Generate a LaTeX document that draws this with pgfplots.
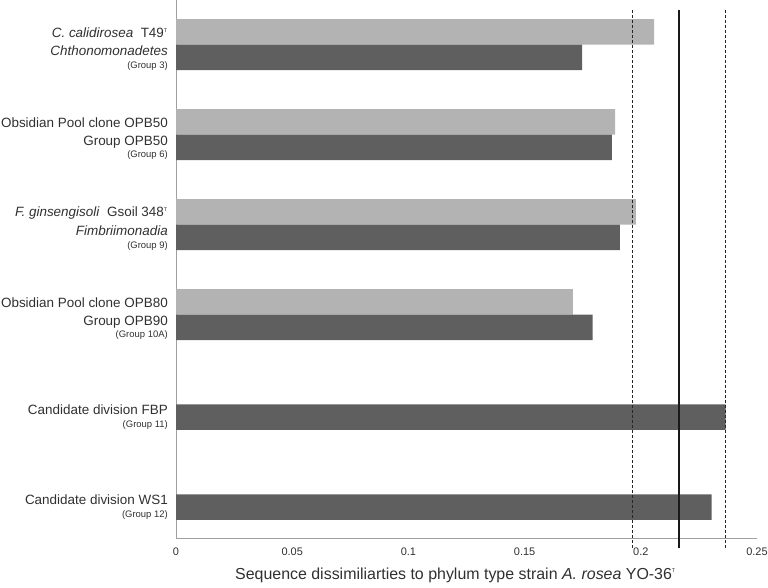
\documentclass[border=0pt]{standalone}
\usepackage{fontspec}
\setmainfont{Liberation Sans}
\usepackage{pgfplots}
\pgfplotsset{compat=1.18}
\definecolor{lightbar}{HTML}{B3B3B3}
\definecolor{darkbar}{HTML}{5F5F5F}
\definecolor{axgray}{HTML}{A0A0A0}
\definecolor{txt}{HTML}{303030}
\newcommand{\sm}[1]{{\fontsize{9.5}{11}\selectfont #1}}
\newcommand{\supT}{\textsuperscript{\fontsize{5.5}{6}\selectfont T}}
\begin{document}
\begin{tikzpicture}[x=1bp,y=1bp]
\useasboundingbox (0,0) rectangle (768,588);
\begin{axis}[
  at={(176bp,50bp)}, anchor=south west,
  width=581bp, height=538bp, scale only axis,
  xmin=0, xmax=0.25, ymin=0, ymax=538, y dir=reverse,
  axis x line*=bottom, axis y line*=left,
  axis line style={axgray, line width=0.9pt, -},
  xtick={0,0.05,0.1,0.15,0.2,0.25},
  xticklabels={0,0.05,0.1,0.15,0.2,0.25},
  major tick length=0pt,
  xticklabel style={font=\fontsize{11}{13}\selectfont, text=txt, yshift=-6bp},
  ytick={33,58,123,148,213,238,303,328,417,507},
  yticklabels={
    {\textit{C. calidirosea}\ \ T49\supT},
    {\textit{Chthonomonadetes}\\[-3.5bp]\sm{(Group 3)}},
    {Obsidian Pool clone OPB50},
    {Group OPB50\\[-3.5bp]\sm{(Group 6)}},
    {\textit{F. ginsengisoli}\ \ Gsoil 348\supT},
    {\textit{Fimbriimonadia}\\[-3.5bp]\sm{(Group 9)}},
    {Obsidian Pool clone OPB80},
    {Group OPB90\\[-3.5bp]\sm{(Group 10A)}},
    {Candidate division FBP\\[-3.5bp]\sm{(Group 11)}},
    {Candidate division WS1\\[-3.5bp]\sm{(Group 12)}}},
  yticklabel style={align=right, font=\fontsize{13.5}{16}\selectfont, text=txt, inner sep=0pt, xshift=-8bp},
  xlabel={Sequence dissimiliarties to phylum type strain \textit{A. rosea} YO-36\supT},
  xlabel style={font=\fontsize{16}{18}\selectfont, text=txt, at={(axis description cs:0.5,0)}, anchor=center, yshift=-37bp, xshift=-11bp},
  bar width=25.5,
  clip=false,
]
\addplot[xbar, bar shift=0pt, fill=lightbar, draw=none] coordinates {
  (0.2057,32) (0.1889,122) (0.1979,212) (0.1708,302)};
\addplot[xbar, bar shift=0pt, fill=darkbar, draw=none] coordinates {
  (0.1747,57.5) (0.1875,147.5) (0.1910,237.5) (0.1793,327.5) (0.2365,417) (0.2305,507)};
\addplot[black!85, line width=1.5pt, dash pattern=on 3bp off 2bp] coordinates {(0.1965,10) (0.1965,548)};
\addplot[black!85, line width=1.5pt, dash pattern=on 3bp off 2bp] coordinates {(0.2365,10) (0.2365,548)};
\addplot[black!90, line width=2.2pt] coordinates {(0.2165,10) (0.2165,548)};
\end{axis}
\end{tikzpicture}
\end{document}
